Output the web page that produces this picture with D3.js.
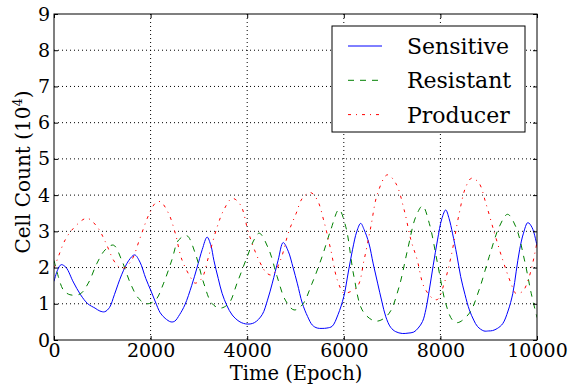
<!DOCTYPE html>
<html>
<head>
<meta charset="utf-8">
<script src="https://cdn.jsdelivr.net/npm/d3@7"></script>
<style>
  body { margin: 0; background: #fff; }
  text { font-family: "DejaVu Serif", serif; }
</style>
</head>
<body>
<div id="chart"></div>
<script>
const margin = { top: 14, right: 34, bottom: 47, left: 54 };
const width = 571 - margin.left - margin.right;
const height = 387 - margin.top - margin.bottom;

// Data: [epoch, cell count (x10^4)]
const sensitive = [
  [0,1.62],[80,1.95],[150,2.08],[250,2.0],[400,1.6],[550,1.25],[700,1.0],[850,0.88],[950,0.8],
  [1050,0.78],[1150,0.9],[1250,1.25],[1400,1.8],[1550,2.2],[1670,2.35],[1780,2.15],[1900,1.7],
  [2000,1.38],[2100,1.05],[2200,0.75],[2300,0.6],[2420,0.5],[2500,0.52],[2600,0.7],[2710,0.97],
  [2850,1.5],[2960,1.99],[3070,2.5],[3170,2.84],[3250,2.6],[3310,2.2],[3400,1.7],[3480,1.29],
  [3580,0.95],[3690,0.69],[3850,0.5],[4000,0.44],[4150,0.48],[4310,0.7],[4420,1.1],[4520,1.57],
  [4640,2.2],[4745,2.69],[4850,2.45],[4950,2.0],[5040,1.55],[5140,1.02],[5250,0.65],[5350,0.41],
  [5450,0.33],[5550,0.32],[5650,0.33],[5760,0.38],[5880,0.7],[6000,1.2],[6090,1.85],[6180,2.49],
  [6270,3.0],[6350,3.22],[6420,3.05],[6520,2.67],[6610,2.1],[6700,1.57],[6790,1.05],[6870,0.64],
  [6970,0.35],[7075,0.23],[7210,0.18],[7330,0.19],[7450,0.22],[7540,0.33],[7630,0.51],[7700,0.85],
  [7770,1.38],[7850,2.05],[7940,2.76],[8030,3.35],[8110,3.59],[8180,3.35],[8250,2.95],[8340,2.35],
  [8420,1.75],[8510,1.25],[8600,0.83],[8690,0.55],[8770,0.37],[8900,0.25],[9000,0.25],[9080,0.26],
  [9180,0.32],[9290,0.45],[9400,0.8],[9500,1.29],[9570,1.9],[9640,2.49],[9720,2.95],[9810,3.24],
  [9900,3.1],[10000,2.6]
];
const resistant = [
  [0,2.2],[90,1.75],[195,1.38],[330,1.25],[540,1.27],[710,1.57],[890,2.12],[1060,2.49],[1230,2.62],
  [1400,2.21],[1580,1.57],[1750,1.15],[1920,1.0],[2100,1.1],[2270,1.57],[2440,2.21],[2580,2.76],
  [2750,2.88],[2925,2.39],[3100,1.57],[3270,1.01],[3440,0.88],[3620,1.01],[3790,1.57],[4000,2.3],
  [4140,2.76],[4250,2.95],[4450,2.49],[4620,1.75],[4790,1.1],[4970,0.83],[5140,0.97],[5345,1.57],
  [5550,2.3],[5730,3.04],[5900,3.6],[6040,3.13],[6210,1.75],[6380,0.83],[6590,0.55],[6730,0.53],
  [6940,0.74],[7145,1.47],[7320,2.49],[7490,3.4],[7630,3.7],[7770,3.22],[7940,2.12],[8110,1.01],
  [8250,0.55],[8360,0.48],[8600,0.74],[8800,1.38],[9010,2.3],[9220,3.13],[9390,3.47],[9560,3.13],
  [9740,2.21],[9880,1.29],[10000,0.62]
];
const producer = [
  [0,1.98],[90,2.3],[230,2.76],[400,3.08],[680,3.36],[890,3.13],[1060,2.72],[1230,2.21],[1340,2.02],
  [1440,1.98],[1610,2.21],[1780,2.81],[1960,3.45],[2100,3.78],[2200,3.82],[2370,3.5],[2510,2.95],
  [2650,2.21],[2860,1.66],[2925,1.57],[3060,1.7],[3200,2.3],[3380,3.13],[3515,3.59],[3690,3.91],
  [3860,3.73],[4030,2.95],[4240,2.21],[4410,1.84],[4520,1.8],[4690,2.21],[4860,2.99],[5015,3.5],
  [5140,3.91],[5310,4.07],[5450,3.87],[5590,3.27],[5730,2.49],[5865,1.66],[6000,1.29],[6070,1.3],
  [6280,1.47],[6420,2.21],[6560,3.13],[6700,4.05],[6900,4.56],[7075,4.33],[7250,3.59],[7390,2.76],
  [7520,2.21],[7660,1.47],[7840,1.15],[7940,1.12],[8080,1.57],[8220,2.3],[8390,3.5],[8530,4.24],
  [8650,4.47],[8800,4.33],[8940,3.78],[9120,2.95],[9290,2.21],[9460,1.57],[9560,1.29],[9700,1.34],
  [9840,1.75],[10000,2.7]
];

const xTicks = [0, 2000, 4000, 6000, 8000, 10000];
const yTicks = [0, 1, 2, 3, 4, 5, 6, 7, 8, 9];

const series = [
  { name: "Sensitive", data: sensitive, color: "#0000ff", dash: null },
  { name: "Resistant", data: resistant, color: "#008000", dash: "6,6" },
  { name: "Producer", data: producer, color: "#ff0000", dash: "3,5,1,5" }
];

const svg = d3.select("#chart").append("svg")
  .attr("width", 571)
  .attr("height", 387);

const g = svg.append("g")
  .attr("transform", `translate(${margin.left},${margin.top})`);

const x = d3.scaleLinear().domain([0, 10000]).range([0, width]);
const y = d3.scaleLinear().domain([0, 9]).range([height, 0]);

// grid
g.append("g").selectAll("line").data(xTicks.slice(1, -1)).join("line")
  .attr("x1", d => x(d)).attr("x2", d => x(d))
  .attr("y1", 0).attr("y2", height)
  .attr("stroke", "#000").attr("stroke-width", 1).attr("stroke-dasharray", "1,3");
g.append("g").selectAll("line").data(yTicks.slice(1, -1)).join("line")
  .attr("y1", d => y(d)).attr("y2", d => y(d))
  .attr("x1", 0).attr("x2", width)
  .attr("stroke", "#000").attr("stroke-width", 1).attr("stroke-dasharray", "1,3");

// lines
const line = d3.line()
  .x(d => x(d[0]))
  .y(d => y(d[1]))
  .curve(d3.curveCatmullRom);

g.append("defs").append("clipPath").attr("id", "clip")
  .append("rect").attr("width", width).attr("height", height);

series.forEach(s => {
  g.append("path")
    .datum(s.data)
    .attr("clip-path", "url(#clip)")
    .attr("fill", "none")
    .attr("stroke", s.color)
    .attr("stroke-width", 1)
    .attr("stroke-dasharray", s.dash)
    .attr("d", line);
});

// axes: matplotlib classic style, ticks pointing in on all sides
const tickLen = 4;
const xAxis = d3.axisBottom(x).tickValues(xTicks).tickFormat(d3.format("d"))
  .tickSizeInner(-tickLen).tickSizeOuter(0).tickPadding(3);
const yAxis = d3.axisLeft(y).tickValues(yTicks).tickFormat(d3.format("d"))
  .tickSizeInner(-tickLen).tickSizeOuter(0).tickPadding(4);

const gx = g.append("g").attr("transform", `translate(0,${height})`).call(xAxis);
const gy = g.append("g").call(yAxis);
g.append("g").call(d3.axisTop(x).tickValues(xTicks).tickSizeInner(-tickLen).tickSizeOuter(0).tickFormat(""));
g.append("g").attr("transform", `translate(${width},0)`)
  .call(d3.axisRight(y).tickValues(yTicks).tickSizeInner(-tickLen).tickSizeOuter(0).tickFormat(""));

g.selectAll(".domain").remove();
g.selectAll(".tick line").attr("stroke", "#000");
[gx, gy].forEach(a => a.selectAll("text")
  .style("font-family", "'DejaVu Serif', serif")
  .style("font-size", "19px")
  .attr("fill", "#000"));

// frame
g.append("rect")
  .attr("width", width).attr("height", height)
  .attr("fill", "none").attr("stroke", "#000").attr("stroke-width", 1);

// axis labels
svg.append("text")
  .attr("x", 296)
  .attr("y", 380)
  .attr("text-anchor", "middle")
  .style("font-size", "19.5px")
  .text("Time (Epoch)");

const yl = svg.append("text")
  .attr("transform", "translate(30,172) rotate(-90)")
  .attr("text-anchor", "middle")
  .style("font-size", "20px");
yl.append("tspan").text("Cell Count (10");
yl.append("tspan").attr("dy", -8).style("font-size", "13px").text("4");
yl.append("tspan").attr("dy", 8).text(")");

// legend
const lg = svg.append("g").attr("transform", "translate(332,26)");
lg.append("rect")
  .attr("width", 193).attr("height", 106)
  .attr("fill", "#fff").attr("stroke", "#000").attr("stroke-width", 1);
series.forEach((s, i) => {
  const yy = 20 + i * 34.3;
  lg.append("line")
    .attr("x1", 16).attr("x2", 50)
    .attr("y1", yy).attr("y2", yy)
    .attr("stroke", s.color).attr("stroke-width", 1)
    .attr("stroke-dasharray", s.dash);
  lg.append("text")
    .attr("x", 75).attr("y", yy + 8)
    .style("font-size", "22px")
    .text(s.name);
});
</script>
</body>
</html>
